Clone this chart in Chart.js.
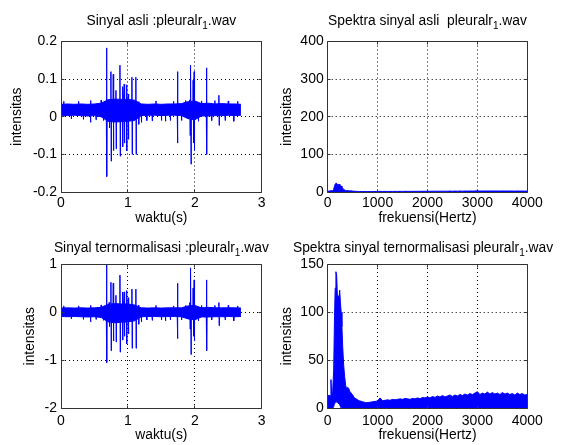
<!DOCTYPE html>
<html>
<head>
<title>Sinyal pleuralr1.wav</title>
<script src="https://cdn.jsdelivr.net/npm/chart.js"></script>
<style>
  body { margin: 0; background: #fff; }
  #wrap { position: relative; width: 565px; height: 445px; }
  #wrap canvas { position: absolute; left: 0; top: 0; }
</style>
</head>
<body>
<div id="wrap">
  <canvas id="c1" width="565" height="445"></canvas>
  <canvas id="c2" width="565" height="445"></canvas>
  <canvas id="c3" width="565" height="445"></canvas>
  <canvas id="c4" width="565" height="445"></canvas>
</div>
<script>
// ---- data ----

// envelope of the dense signal band, every 0.1 s
var waktuEnv = [0,0.1,0.2,0.3,0.4,0.5,0.6,0.7,0.8,0.9,1.0,1.1,1.2,1.3,1.4,1.5,1.6,1.7,1.8,1.9,2.0,2.1,2.2,2.3,2.4,2.5,2.6,2.69];
var asliAtas  = [0.033,0.034,0.033,0.034,0.033,0.034,0.036,0.045,0.047,0.046,0.046,0.044,0.034,0.033,0.034,0.033,0.034,0.034,0.035,0.040,0.042,0.035,0.036,0.034,0.035,0.034,0.034,0.033];
var asliBawah = [0.004,0.003,0.004,0.003,0.002,0.003,0.000,-0.012,-0.014,-0.013,-0.012,-0.010,0.003,0.004,0.004,0.003,0.004,0.004,0.003,-0.005,-0.008,0.002,0.002,0.003,0.003,0.004,0.003,0.004];
var normAtas  = [0.085,0.09,0.085,0.09,0.085,0.09,0.10,0.16,0.18,0.17,0.17,0.15,0.09,0.085,0.09,0.085,0.09,0.09,0.09,0.13,0.14,0.09,0.10,0.09,0.09,0.09,0.09,0.085];
var normBawah = [-0.09,-0.095,-0.09,-0.095,-0.10,-0.095,-0.11,-0.20,-0.22,-0.21,-0.20,-0.18,-0.095,-0.09,-0.09,-0.095,-0.09,-0.09,-0.095,-0.14,-0.16,-0.10,-0.10,-0.095,-0.095,-0.09,-0.095,-0.09];

// spikes sticking out of the band: time, top, bottom
var lonjakanT = [0.04,0.15,0.26,0.33,0.44,0.52,0.6,0.63,
  0.681,0.72,0.746,0.781,0.821,0.881,0.92,0.945,0.98,1.005,
  1.06,1.119,1.16,1.2,1.28,1.36,1.42,1.5,1.56,1.63,
  1.68,1.74,1.8,1.86,1.925,1.94,1.975,1.99,2.05,2.1,
  2.175,2.25,2.3,2.36,2.45,2.5,2.58,2.64];
var asliHi = [0.041,0.019,0.041,0.019,0.043,0.019,0.044,0.019,
  0.183,0.045,0.12,0.113,0.07,0.137,0.08,0.087,0.085,0.06,
  0.105,0.105,0.04,0.019,0.019,0.019,0.042,0.019,0.019,0.019,
  0.041,0.12,0.019,0.043,0.045,0.137,0.097,0.12,0.019,0.042,
  0.13,0.019,0.043,0.057,0.019,0.042,0.019,0.041];
var asliLo = [0.019,-0.006,0.019,-0.007,-0.015,-0.008,0.019,-0.01,
  -0.159,-0.03,-0.118,-0.09,-0.085,-0.105,-0.08,-0.07,-0.09,-0.06,
  -0.1,-0.1,-0.02,-0.015,-0.01,-0.011,0.019,-0.01,-0.012,-0.01,
  0.019,-0.07,-0.01,0.019,-0.05,-0.126,-0.07,-0.09,-0.012,0.019,
  -0.1,-0.01,0.019,-0.023,-0.01,0.019,-0.012,0.019];
var normHi = [0.13,0,0.13,0,0.14,0,0.15,0,
  1.0,0.2,0.62,0.6,0.35,0.77,0.42,0.42,0.45,0.3,
  0.48,0.48,0.15,0,0,0,0.14,0,0,0,
  0.13,0.6,0,0.14,0.2,0.92,0.5,0.67,0,0.14,
  0.67,0,0.14,0.2,0,0.14,0,0.13];
var normLo = [0,-0.14,0,-0.15,-0.2,-0.15,0,-0.17,
  -1.05,-0.3,-0.8,-0.6,-0.62,-0.83,-0.58,-0.5,-0.66,-0.45,
  -0.75,-0.75,-0.25,-0.2,-0.16,-0.17,0,-0.16,-0.18,-0.16,
  0,-0.55,-0.16,0,-0.35,-0.88,-0.5,-0.6,-0.18,0,
  -0.8,-0.16,0,-0.28,-0.16,0,-0.18,0];
var asliDasar = 0.019;
var normDasar = 0;

// spectra
var frek = [0,25,50,65,80,100,120,135,150,165,180,195,210,225,240,255,270,285,300,320,340,360,380,400,420,440,470,500,535,570,600,635,700,770,850,900,970,
  1000,1050,1100,1150,1200,1250,1300,1350,1400,1450,1500,1550,1600,1650,1700,1750,1800,1850,1900,1950,
  2000,2050,2100,2150,2200,2250,2300,2350,2400,2450,2500,2550,2600,2650,2700,2750,2800,2850,2900,2950,
  3000,3050,3100,3150,3200,3250,3300,3350,3400,3450,3500,3550,3600,3650,3700,3750,3800,3850,3900,3950,4000];
var spekAsli = [2,2.5,2.5,5,2.5,3.5,7,15,21,24,23,19,20,19,21,18,16,13,10,7,5.5,4,3.5,4,3.5,3,3,2.5,2,1.8,1.5,1.4,1.2,1,1.1,1.2,1.3,
  1.4,1.9,1.4,1.5,1.5,1.5,1.6,1.5,1.6,1.7,1.6,1.8,1.7,1.6,1.8,1.7,1.9,1.7,2,1.9,
  2,1.9,2.1,2,2.2,2,2.3,2,2.2,2.4,2.1,2.4,2.2,2.5,2.3,2.6,2.4,2.6,2.5,2.7,
  3,2.5,2.7,2.6,2.9,2.6,2.8,2.6,2.7,2.5,2.8,2.6,2.7,2.5,2.6,2.4,2.7,2.5,2.6,2.4,2.5];
var spekNormAtas = [12,14,13,30,14,18,40,90,125,142,138,115,117,112,123,110,100,85,65,45,33,24,20,22,21,18,16,14,11,10,9,8,7,6,6.5,7,7.5,
  8,11,8,8.5,9,8.5,9.5,9,9.5,10,9.5,10.5,10,9.5,10.5,10,11,10,11.5,11,
  12,11,12.5,11.5,13,12,13.5,12,13,14,12.5,14,13,14.5,13.5,15,14,15.5,14.5,16,
  17.5,14.5,16,15,17,15,16.5,15,16,14.5,16.5,15,16,14.5,15.5,14,16,14.5,15.5,14,14.5];
var spekNormBawah = [0,0,0,0,0,0,2,5,6,7,7,6,6,5,4,2,0,0,0,0,0,0,0,0,0,0,0,0,0,0,0,0,0,0,0,0,0,
  0,0,0,0,0,0,0,0,0,0,0,0,0,0,0,0,0,0,0,0,
  0,0,0,0,0,0,0,0,0,0,0,0,0,0,0,0,0,0,0,0,
  0,0,0,0,0,0,0,0,0,0,0,0,0,0,0,0,0,0,0,0,0];

// tick values and labels
var tickWaktu = [0,1,2,3];
var labelWaktu = ['0','1','2','3'];
var tickFrek = [0,1000,2000,3000,4000];
var labelFrek = ['0','1000','2000','3000','4000'];
var tickAsli = [-0.2,-0.1,0,0.1,0.2];
var labelAsli = ['-0.2','-0.1','0','0.1','0.2'];
var tickSpekAsli = [0,100,200,300,400];
var labelSpekAsli = ['0','100','200','300','400'];
var tickNorm = [-2,-1,0,1];
var labelNorm = ['-2','-1','0','1'];
var tickSpekNorm = [0,50,100,150];
var labelSpekNorm = ['0','50','100','150'];

// ---- helpers ----
var BIRU = '#0000ff';
Chart.defaults.font.family = '"Liberation Sans", Arial, Helvetica, sans-serif';
Chart.defaults.font.size = 14;
Chart.defaults.color = '#000';

function titik(xs, ys) {
  return xs.map(function (x, i) { return {x: x, y: ys[i]}; });
}

function lonjakan(dasar, hi, lo) {
  var pts = [];
  lonjakanT.forEach(function (t, i) {
    pts.push({x: t - 0.004, y: dasar});
    pts.push({x: t, y: hi[i]});
    pts.push({x: t + 0.004, y: lo[i]});
    pts.push({x: t + 0.008, y: dasar});
  });
  return pts;
}

// grid, box, inward ticks and title with subscript (MATLAB look)
var kotak = {
  id: 'kotak',
  beforeDatasetsDraw: function (chart) {
    var ctx = chart.ctx, a = chart.chartArea, sx = chart.scales.x, sy = chart.scales.y;
    ctx.save();
    ctx.strokeStyle = '#000';
    ctx.lineWidth = 1;
    ctx.setLineDash([1, 3]);
    ctx.beginPath();
    sx.ticks.forEach(function (t) {
      var p = Math.floor(sx.getPixelForValue(t.value)) + 0.5;
      if (p > a.left + 2 && p < a.right - 2) { ctx.moveTo(p, a.top); ctx.lineTo(p, a.bottom); }
    });
    sy.ticks.forEach(function (t) {
      var p = Math.floor(sy.getPixelForValue(t.value)) + 0.5;
      if (p > a.top + 2 && p < a.bottom - 2) { ctx.moveTo(a.left, p); ctx.lineTo(a.right, p); }
    });
    ctx.stroke();
    ctx.restore();
  },
  afterDraw: function (chart, args, opts) {
    var ctx = chart.ctx, a = chart.chartArea, sx = chart.scales.x, sy = chart.scales.y;
    var l = Math.floor(a.left) + 0.5, r = Math.floor(a.right) + 0.5;
    var t = Math.floor(a.top) + 0.5, b = Math.floor(a.bottom) + 0.5;
    ctx.save();
    ctx.strokeStyle = '#333';
    ctx.lineWidth = 1;
    ctx.beginPath();
    ctx.rect(l, t, r - l, b - t);
    sx.ticks.forEach(function (tk) {
      var p = Math.floor(sx.getPixelForValue(tk.value)) + 0.5;
      ctx.moveTo(p, b); ctx.lineTo(p, b - 3);
      ctx.moveTo(p, t); ctx.lineTo(p, t + 3);
    });
    sy.ticks.forEach(function (tk) {
      var p = Math.floor(sy.getPixelForValue(tk.value)) + 0.5;
      ctx.moveTo(l, p); ctx.lineTo(l + 3, p);
      ctx.moveTo(r, p); ctx.lineTo(r - 3, p);
    });
    ctx.stroke();

    // title: main text, subscript "1", rest
    var j = opts.judul;
    var besar = '13.8px "Liberation Sans", Arial, sans-serif';
    var kecil = '10px "Liberation Sans", Arial, sans-serif';
    ctx.fillStyle = '#000';
    ctx.textBaseline = 'alphabetic';
    ctx.textAlign = 'left';
    ctx.font = besar; var w0 = ctx.measureText(j[0]).width, w2 = ctx.measureText(j[2]).width;
    ctx.font = kecil; var w1 = ctx.measureText(j[1]).width;
    var tengah = opts.judulX !== undefined ? opts.judulX : (a.left + a.right) / 2;
    var x = tengah - (w0 + w1 + w2) / 2;
    ctx.font = besar; ctx.fillText(j[0], x, opts.judulY);
    ctx.font = kecil; ctx.fillText(j[1], x + w0, opts.judulY + 4);
    ctx.font = besar; ctx.fillText(j[2], x + w0 + w1, opts.judulY);
    ctx.restore();
  }
};

function buatGrafik(id, c) {
  new Chart(document.getElementById(id), {
    type: 'line',
    data: { datasets: c.datasets },
    plugins: [kotak],
    options: {
      responsive: false,
      animation: false,
      events: [],
      layout: { padding: { left: c.padL, top: c.box[1], right: 565 - c.box[2], bottom: 445 - c.box[3] - c.hX } },
      elements: { point: { radius: 0 }, line: { borderWidth: 1, tension: 0 } },
      plugins: {
        legend: { display: false },
        tooltip: { enabled: false },
        kotak: { judul: c.judul, judulY: c.judulY, judulX: c.judulX }
      },
      scales: {
        x: {
          type: 'linear', min: c.xTick[0], max: c.xTick[c.xTick.length - 1],
          grid: { display: false, drawTicks: false }, border: { display: false },
          afterBuildTicks: function (s) { s.ticks = c.xTick.map(function (v) { return {value: v}; }); },
          afterFit: function (s) { s.height = c.hX; },
          ticks: { padding: c.tickPadX, maxRotation: 0, autoSkip: false,
                   callback: function (v, i) { return c.xLabel[i]; } },
          title: { display: true, text: c.xJudul, padding: 0, font: { size: 13.8 } }
        },
        y: {
          type: 'linear', min: c.yTick[0], max: c.yTick[c.yTick.length - 1],
          grid: { display: false, drawTicks: false }, border: { display: false },
          afterBuildTicks: function (s) { s.ticks = c.yTick.map(function (v) { return {value: v}; }); },
          afterFit: function (s) { s.width = c.box[0] - c.padL; },
          ticks: { padding: 4, autoSkip: false,
                   callback: function (v, i) { return c.yLabel[i]; } },
          title: { display: true, text: 'intensitas', padding: 0, font: { size: 13.8 } }
        }
      }
    }
  });
}

function pita(xs, bawah, atas) {
  return [
    { data: titik(xs, bawah), borderColor: BIRU, borderWidth: 1, fill: false },
    { data: titik(xs, atas), borderColor: BIRU, borderWidth: 1, backgroundColor: BIRU, fill: '-1' }
  ];
}

// top left: original signal
buatGrafik('c1', {
  box: [61, 41.5, 261.7, 192], padL: 8.7, hX: 34.5, tickPadX: 3,
  xTick: tickWaktu, xLabel: labelWaktu, yTick: tickAsli, yLabel: labelAsli,
  xJudul: 'waktu(s)', judul: ['Sinyal asli :pleuralr', '1', '.wav'], judulY: 25,
  datasets: pita(waktuEnv, asliBawah, asliAtas).concat([
    { data: lonjakan(asliDasar, asliHi, asliLo), borderColor: BIRU, borderWidth: 1, fill: false }
  ])
});

// top right: spectrum of original
buatGrafik('c2', {
  box: [327.7, 41.5, 527.3, 192], padL: 278.7, hX: 34.5, tickPadX: 3,
  xTick: tickFrek, xLabel: labelFrek, yTick: tickSpekAsli, yLabel: labelSpekAsli,
  xJudul: 'frekuensi(Hertz)', judul: ['Spektra sinyal asli  pleuralr', '1', '.wav'], judulY: 25,
  datasets: [
    { data: titik(frek, spekAsli), borderColor: BIRU, borderWidth: 1, backgroundColor: BIRU, fill: 'origin' }
  ]
});

// bottom left: normalised signal
buatGrafik('c3', {
  box: [61, 264, 261.7, 408.5], padL: 21.7, hX: 34.8, tickPadX: 4,
  xTick: tickWaktu, xLabel: labelWaktu, yTick: tickNorm, yLabel: labelNorm,
  xJudul: 'waktu(s)', judul: ['Sinyal ternormalisasi :pleuralr', '1', '.wav'], judulY: 252,
  datasets: pita(waktuEnv, normBawah, normAtas).concat([
    { data: lonjakan(normDasar, normHi, normLo), borderColor: BIRU, borderWidth: 1, fill: false }
  ])
});

// bottom right: spectrum of normalised signal
buatGrafik('c4', {
  box: [327.7, 264, 527.3, 408.5], padL: 278.7, hX: 34.8, tickPadX: 4,
  xTick: tickFrek, xLabel: labelFrek, yTick: tickSpekNorm, yLabel: labelSpekNorm,
  xJudul: 'frekuensi(Hertz)', judul: ['Spektra sinyal ternormalisasi pleuralr', '1', '.wav'], judulY: 252, judulX: 423,
  datasets: pita(frek, spekNormBawah, spekNormAtas)
});
</script>
</body>
</html>
